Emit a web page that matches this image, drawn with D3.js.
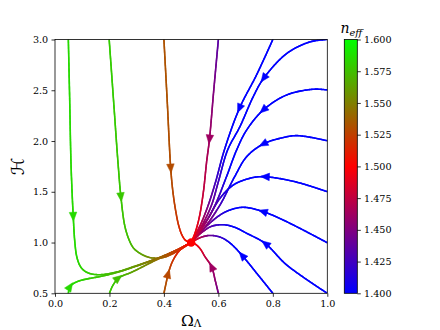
<!DOCTYPE html>
<html><head><meta charset="utf-8">
<script src="https://cdn.jsdelivr.net/npm/d3@7"></script>
<style>body{margin:0;background:#fff}svg{display:block}</style>
</head><body>
<svg id="c" width="440" height="330"></svg>
<script>
// ---------- data ----------
const xTicks = [0.0, 0.2, 0.4, 0.6, 0.8, 1.0];
const yTicks = [0.5, 1.0, 1.5, 2.0, 2.5, 3.0];
const cbTicks = [1.400, 1.425, 1.450, 1.475, 1.500, 1.525, 1.550, 1.575, 1.600];
const cmapStops = [1.4, 1.5, 1.6];
const cmapColors = ["#0000ff", "#ff0000", "#00ff00"];
const fixedPoint = [0.5, 1.0];

// trajectories: [Omega_Lambda, H, n_eff]
const blue1 = [[0.80,3.00,1.38],[0.74,2.65,1.38],[0.677,2.32,1.39],[0.622,1.912,1.405],[0.59,1.60,1.425],[0.563,1.37,1.445],[0.535,1.18,1.47],[0.5,1.0,1.5]];
const blue2 = [[1.00,3.00,1.35],[0.937,2.977,1.35],[0.851,2.862,1.36],[0.765,2.613,1.37],[0.728,2.437,1.38],[0.679,2.141,1.39],[0.634,1.912,1.40],[0.60,1.60,1.425],[0.575,1.37,1.44],[0.54,1.17,1.465],[0.5,1.0,1.5]];
const blue3 = [[1.00,2.503,1.35],[0.949,2.51,1.35],[0.851,2.454,1.36],[0.765,2.306,1.37],[0.704,2.109,1.38],[0.667,1.912,1.39],[0.63,1.65,1.405],[0.588,1.37,1.435],[0.545,1.16,1.465],[0.5,1.0,1.5]];
const blue4 = [[1.00,2.003,1.35],[0.888,2.053,1.36],[0.827,2.027,1.37],[0.765,1.971,1.38],[0.704,1.846,1.39],[0.66,1.65,1.40],[0.606,1.37,1.425],[0.55,1.15,1.46],[0.5,1.0,1.5]];
const blue5 = [[1.00,1.501,1.35],[0.88,1.60,1.36],[0.765,1.649,1.38],[0.716,1.633,1.39],[0.655,1.567,1.40],[0.606,1.436,1.42],[0.56,1.23,1.45],[0.5,1.0,1.5]];
const blue6 = [[1.00,0.998,1.35],[0.851,1.205,1.37],[0.765,1.304,1.38],[0.692,1.347,1.39],[0.643,1.321,1.40],[0.606,1.271,1.42],[0.56,1.17,1.445],[0.5,1.0,1.5]];
const blue7 = [[1.00,0.50,1.35],[0.851,0.779,1.37],[0.771,0.993,1.38],[0.704,1.091,1.39],[0.66,1.15,1.40],[0.62,1.175,1.41],[0.575,1.16,1.43],[0.535,1.09,1.46],[0.5,1.0,1.5]];
const blue8 = [[0.80,0.50,1.37],[0.74,0.70,1.38],[0.686,0.877,1.39],[0.645,0.99,1.40],[0.61,1.05,1.42],[0.57,1.07,1.44],[0.535,1.05,1.465],[0.5,1.0,1.5]];
const purpleTop = [[0.600,3.00,1.435],[0.583,2.50,1.45],[0.567,2.01,1.462],[0.557,1.80,1.468],[0.545,1.50,1.476],[0.53,1.25,1.485],[0.515,1.10,1.493],[0.5,1.0,1.5]];
const purpleBottom = [[0.600,0.50,1.445],[0.589,0.62,1.455],[0.575,0.762,1.462],[0.551,0.86,1.475],[0.532,0.943,1.488],[0.515,0.985,1.495],[0.5,1.0,1.5]];
const orangeTop = [[0.400,3.00,1.532],[0.412,2.40,1.532],[0.425,1.73,1.53],[0.433,1.50,1.528],[0.444,1.30,1.524],[0.455,1.16,1.518],[0.467,1.07,1.512],[0.48,1.02,1.507],[0.5,1.0,1.5]];
const orangeBottom = [[0.400,0.50,1.532],[0.408,0.60,1.53],[0.416,0.697,1.528],[0.434,0.828,1.52],[0.459,0.927,1.51],[0.48,0.972,1.505],[0.5,1.0,1.5]];
const greenTop1 = [[0.049,3.00,1.585],[0.054,2.40,1.585],[0.059,1.76,1.585],[0.067,1.255,1.585],[0.073,1.00,1.585],[0.080,0.86,1.585],[0.092,0.77,1.583],[0.106,0.725,1.582],[0.128,0.695,1.58],[0.165,0.683,1.578],[0.23,0.712,1.57],[0.288,0.762,1.56],[0.336,0.806,1.55],[0.386,0.855,1.54],[0.447,0.927,1.522],[0.5,1.0,1.5]];
const greenTop2 = [[0.199,3.00,1.58],[0.215,2.40,1.58],[0.232,1.764,1.578],[0.242,1.452,1.578],[0.257,1.156,1.576],[0.275,1.008,1.574],[0.29,0.94,1.57],[0.312,0.894,1.565],[0.336,0.862,1.558],[0.361,0.847,1.55],[0.398,0.853,1.538],[0.447,0.91,1.52],[0.5,1.0,1.5]];
const greenBottom1 = [[0.049,0.50,1.585],[0.055,0.565,1.585],[0.07,0.60,1.585],[0.092,0.625,1.583],[0.13,0.648,1.58],[0.165,0.665,1.578],[0.227,0.705,1.57],[0.288,0.758,1.56],[0.336,0.803,1.55],[0.386,0.853,1.54],[0.447,0.926,1.522],[0.5,1.0,1.5]];
const greenBottom2 = [[0.200,0.50,1.578],[0.212,0.575,1.578],[0.232,0.648,1.575],[0.255,0.68,1.57],[0.275,0.70,1.566],[0.31,0.745,1.558],[0.35,0.80,1.55],[0.386,0.846,1.54],[0.447,0.923,1.522],[0.5,1.0,1.5]];

const trajectories = [blue1, blue2, blue3, blue4, blue5, blue6, blue7, blue8,
  purpleTop, purpleBottom, orangeTop, orangeBottom, greenTop1, greenTop2, greenBottom1, greenBottom2];

// arrow heads: [trajectory index, Omega_Lambda, H]
const arrows = [[0,0.677,2.323],[1,0.765,2.613],[2,0.765,2.306],[3,0.765,1.971],[4,0.77,1.648],[5,0.765,1.304],
  [6,0.771,0.993],[7,0.686,0.877],[8,0.567,2.01],[9,0.575,0.762],[10,0.425,1.73],[11,0.416,0.697],
  [12,0.067,1.255],[13,0.242,1.452],[14,0.055,0.565],[15,0.232,0.648]];

// ---------- layout ----------
const svg = d3.select("#c");
const plot = {l:55, r:327.3, t:39.5, b:293.3};
const cb = {l:344.3, r:357.3};
const x = d3.scaleLinear().domain([0,1]).range([plot.l, plot.r]);
const y = d3.scaleLinear().domain([0.5,3.0]).range([plot.b, plot.t]);
const cmap = d3.scaleLinear().domain(cmapStops).range(cmapColors).interpolate(d3.interpolateRgb).clamp(true);
const serif = "DejaVu Serif";

svg.append("defs").append("clipPath").attr("id","clip").append("rect")
  .attr("x",plot.l).attr("y",plot.t).attr("width",plot.r-plot.l).attr("height",plot.b-plot.t);
const gl = svg.append("g").attr("clip-path","url(#clip)");
const line = d3.line().curve(d3.curveCatmullRom.alpha(0.5));

function drawTraj(data){
  const pts = data.map(d => [x(d[0]), y(d[1])]);
  const tmp = gl.append("path").attr("d", line(pts)).attr("fill","none").attr("stroke","none");
  const node = tmp.node();
  const L = node.getTotalLength();
  const cum = [0];
  for (let i=1;i<pts.length;i++) cum.push(cum[i-1] + Math.hypot(pts[i][0]-pts[i-1][0], pts[i][1]-pts[i-1][1]));
  const total = cum[cum.length-1];
  const N = Math.max(2, Math.ceil(L/1.2));
  const samples = [];
  for (let k=0;k<=N;k++){
    const s = L*k/N, p = node.getPointAtLength(s);
    const f = s/L*total;
    let i = 0; while (i < cum.length-2 && cum[i+1] < f) i++;
    const t = (f-cum[i])/((cum[i+1]-cum[i])||1);
    const n = data[i][2] + (data[i+1][2]-data[i][2])*Math.max(0,Math.min(1,t));
    samples.push({x:p.x, y:p.y, n});
  }
  tmp.remove();
  const g = gl.append("g");
  for (let k=0;k<N;k++){
    const a = samples[k], b = samples[k+1];
    g.append("line").attr("x1",a.x).attr("y1",a.y).attr("x2",b.x).attr("y2",b.y)
      .attr("stroke", cmap((a.n+b.n)/2)).attr("stroke-width",1.6).attr("stroke-linecap","round");
  }
  return samples;
}

const allSamples = trajectories.map(drawTraj);

// arrows
arrows.forEach(([ti, ox, oh]) => {
  const S = allSamples[ti];
  const px = x(ox), py = y(oh);
  let best = 1, bd = Infinity;
  for (let k=1;k<S.length-1;k++){ const d = Math.hypot(S[k].x-px, S[k].y-py); if (d<bd){bd=d;best=k;} }
  const a = S[Math.max(0,best-3)], b = S[Math.min(S.length-1,best+3)];
  let dx = b.x-a.x, dy = b.y-a.y; const len = Math.hypot(dx,dy)||1; dx/=len; dy/=len;
  const c = S[best], hl = 9, hw = 3.8;
  const tip = [c.x+dx*hl/2, c.y+dy*hl/2], base = [c.x-dx*hl/2, c.y-dy*hl/2];
  const p1 = [base[0]-dy*hw, base[1]+dx*hw], p2 = [base[0]+dy*hw, base[1]-dx*hw];
  gl.append("path").attr("d", `M${tip}L${p1}L${p2}Z`).attr("fill", cmap(c.n)).attr("stroke", cmap(c.n)).attr("stroke-width",0.5);
});

// fixed point
svg.append("circle").attr("cx", x(fixedPoint[0])).attr("cy", y(fixedPoint[1])).attr("r",4.2).attr("fill","#ff0000");

// axes
const xAxis = d3.axisBottom(x).tickValues(xTicks).tickFormat(d3.format(".1f")).tickSize(3.5).tickPadding(3.3);
const yAxis = d3.axisLeft(y).tickValues(yTicks).tickFormat(d3.format(".1f")).tickSize(3.5).tickPadding(3.3);
function styleAxis(g){
  g.select(".domain").remove();
  g.selectAll(".tick line").attr("stroke","#000").attr("stroke-width",0.8);
  g.selectAll("text").attr("font-family",serif).attr("font-size","9.6px").attr("fill","#000");
}
svg.append("g").attr("transform",`translate(0,${plot.b})`).call(xAxis).call(styleAxis);
svg.append("g").attr("transform",`translate(${plot.l},0)`).call(yAxis).call(styleAxis);
svg.append("rect").attr("x",plot.l).attr("y",plot.t).attr("width",plot.r-plot.l).attr("height",plot.b-plot.t)
  .attr("fill","none").attr("stroke","#000").attr("stroke-width",0.8);

// axis labels
const xl = svg.append("text").attr("x",(plot.l+plot.r)/2).attr("y",325.5).attr("text-anchor","middle")
  .attr("font-family",serif).attr("font-size","15.5px").attr("fill","#000");
xl.append("tspan").text("Ω");
xl.append("tspan").attr("font-size","10.5px").attr("dy",1.8).text("Λ");
svg.append("text").attr("transform",`translate(24,${(plot.t+plot.b)/2}) rotate(-90)`).attr("text-anchor","middle")
  .attr("font-family","DejaVu Sans").attr("font-size","18px").attr("fill","#000").text("ℋ");

// colorbar
const grad = svg.select("defs").append("linearGradient").attr("id","cbg").attr("x1",0).attr("y1",1).attr("x2",0).attr("y2",0);
cmapStops.forEach((s,i) => grad.append("stop").attr("offset",(s-1.4)/0.2).attr("stop-color",cmapColors[i]));
svg.append("rect").attr("x",cb.l).attr("y",plot.t).attr("width",cb.r-cb.l).attr("height",plot.b-plot.t)
  .attr("fill","url(#cbg)").attr("stroke","#000").attr("stroke-width",0.8);
const cbScale = d3.scaleLinear().domain([1.4,1.6]).range([plot.b, plot.t]);
svg.append("g").attr("transform",`translate(${cb.r},0)`)
  .call(d3.axisRight(cbScale).tickValues(cbTicks).tickFormat(d3.format(".3f")).tickSize(3.5).tickPadding(3.3))
  .call(styleAxis);
const ct = svg.append("text").attr("x",(cb.l+cb.r)/2+0.5).attr("y",33.3).attr("text-anchor","middle")
  .attr("font-family",serif).attr("font-style","italic").attr("fill","#000");
ct.append("tspan").attr("font-size","14px").text("n");
ct.append("tspan").attr("font-size","9.8px").attr("dy",2.8).text("eff");
</script>
</body></html>
